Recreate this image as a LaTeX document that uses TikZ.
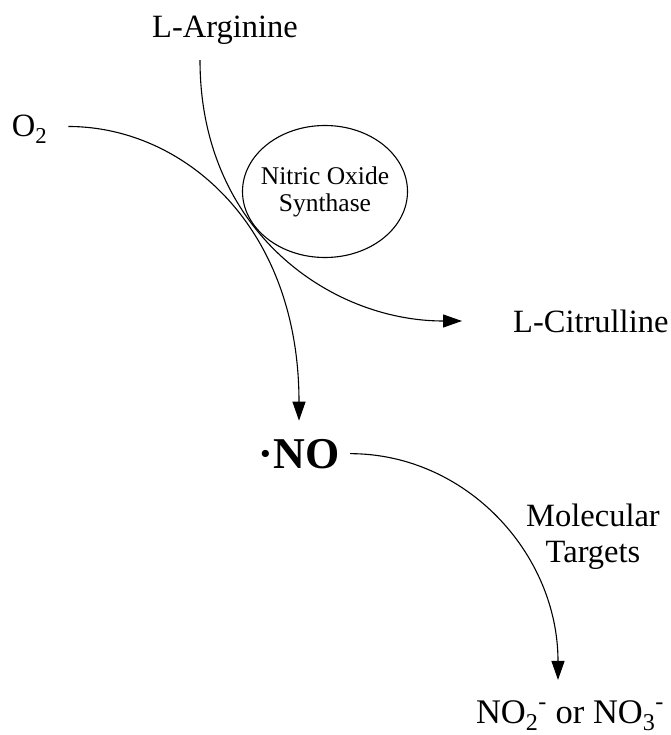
\documentclass[tikz,border=0pt]{standalone}
\usepackage{fontspec}
\setmainfont{Liberation Serif}
\usetikzlibrary{positioning,shapes.geometric,arrows.meta}

\begin{document}
\begin{tikzpicture}[x=1pt,y=-1pt,
  flow/.style={black, line width=1.1pt, -{Triangle[length=19pt,width=13pt]}},
  lbl/.style={font=\fontsize{32.5}{36}\selectfont, inner sep=3pt}]
\useasboundingbox (0,0) rectangle (670,735);
\node[lbl, anchor=base] (arg) at (225,38) {L-Arginine};
\node[lbl, anchor=base] (o2) at (29.5,137) {O\textsubscript{2}};
\node[draw, ellipse, line width=1.1pt, minimum width=165pt, minimum height=132pt, inner xsep=-6pt, inner ysep=0pt, align=center, font=\fontsize{25.5}{27}\selectfont] (nos) at (325,191.5) {Nitric Oxide\\Synthase};
\node[lbl, anchor=west] (cit) at (510,321) {L-Citrulline};
\node[font=\fontsize{44}{48}\selectfont\bfseries, inner sep=3pt, anchor=base] (no) at (299,468) {·NO};
\node[lbl, align=center] (tgt) at (593,537) {Molecular\\Targets};
\node[font=\fontsize{34.5}{38}\selectfont, inner sep=3pt, anchor=base] (nox) at (570,723) {NO\textsubscript{2}\textsuperscript{\raisebox{4pt}{-}} or NO\textsubscript{3}\textsuperscript{\raisebox{4pt}{-}}};
\draw[flow] ([xshift=18pt,yshift=3pt]o2.east) .. controls +(115,0) and +(0,-195) .. ([yshift=15pt]no.north);
\draw[flow] ([xshift=-25pt,yshift=-12pt]arg.south) .. controls +(0,170) and +(-132,0) .. ([xshift=-48pt]cit.west);
\draw[flow] ([xshift=7.5pt]no.east) .. controls +(116,0) and +(0,-126.5) .. ([xshift=-12pt,yshift=17pt]nox.north);
\end{tikzpicture}
\end{document}
